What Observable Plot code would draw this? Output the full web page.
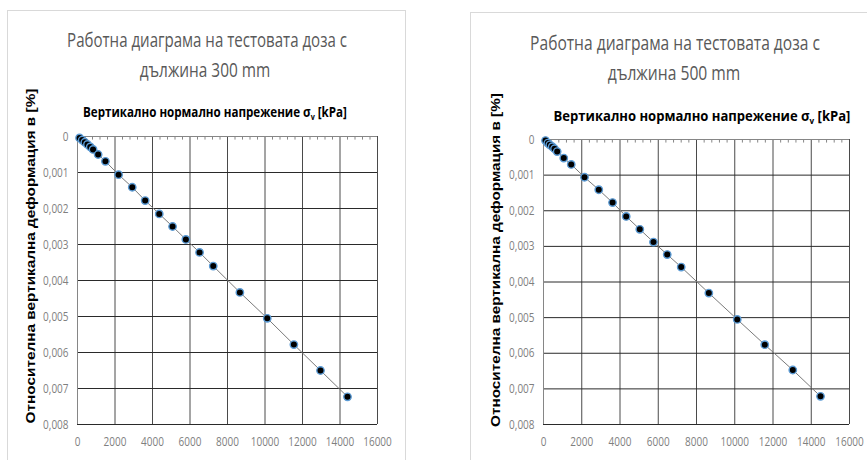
<!DOCTYPE html>
<html>
<head>
<meta charset="utf-8">
<script src="https://cdn.jsdelivr.net/npm/d3@7"></script>
<script src="https://cdn.jsdelivr.net/npm/@observablehq/plot@0.6"></script>
<style>
  html, body { margin: 0; padding: 0; background: #fff; }
  #wrap { position: relative; width: 867px; height: 460px; overflow: hidden; background: #fff; }
  .panel { position: absolute; border: 1px solid #d9d9d9; background: #fff; }
  .t { position: absolute; transform: translate(-50%, -50%); white-space: nowrap; line-height: 1; }
  .title { font-family: "Open Sans", "Noto Sans", sans-serif; font-size: 20px; color: #595959; }
  .xt { font-family: "Open Sans", "Noto Sans", sans-serif; font-weight: bold; font-size: 14.5px; color: #000; }
  .yt { font-family: "Liberation Sans", Arial, sans-serif; font-weight: bold; font-size: 13px; color: #000; }
  .plot { position: absolute; }
</style>
</head>
<body>
<div id="wrap">
  <div class="panel" style="left:7px; top:10px; width:397px; height:470px;"></div>
  <div class="panel" style="left:470px; top:12px; width:420px; height:470px;"></div>

  <div class="t title" data-w="280" style="left:207px; top:40px;">Работна диаграма на тестовата доза с</div>
  <div class="t title" data-w="131" style="left:205px; top:70px;">дължина 300 mm</div>
  <div class="t xt" data-w="264" style="left:215px; top:113px;">Вертикално нормално напрежение σ<sub style="font-size:9px">v</sub> [kPa]</div>
  <div class="t yt" data-w="335" data-rot="1" style="left:30px; top:256px;">Относителна вертикална деформация в [%]</div>

  <div class="t title" data-w="290" style="left:675px; top:43px;">Работна диаграма на тестовата доза с</div>
  <div class="t title" data-w="133" style="left:674px; top:73px;">дължина 500 mm</div>
  <div class="t xt" data-w="297" style="left:702px; top:117px;">Вертикално нормално напрежение σ<sub style="font-size:9px">v</sub> [kPa]</div>
  <div class="t yt" data-w="334" data-rot="1" style="left:495px; top:260px;">Относителна вертикална деформация в [%]</div>

  <div id="p1" class="plot" style="left:0px; top:90px;"></div>
  <div id="p2" class="plot" style="left:430px; top:90px;"></div>
</div>
<script>
// ---- Data: test specimen 300 mm ----
const stress300 = [110, 250, 390, 530, 680, 830, 1100, 1490, 2190, 2920, 3610, 4360, 5070, 5780, 6510, 7240, 8660, 10120, 11540, 12960, 14400];
const strain300 = [0.00004, 0.0001, 0.00016, 0.00022, 0.00029, 0.00036, 0.0005, 0.00069, 0.00106, 0.00141, 0.00178, 0.00215, 0.0025, 0.00286, 0.00322, 0.0036, 0.00433, 0.00505, 0.00578, 0.0065, 0.00723];

// ---- Data: test specimen 500 mm ----
const stress500 = [105, 225, 330, 455, 575, 715, 1060, 1450, 2145, 2890, 3610, 4325, 5035, 5750, 6470, 7200, 8645, 10130, 11570, 13035, 14485];
const strain500 = [0.00003, 0.0001, 0.00015, 0.0002, 0.00026, 0.00034, 0.00052, 0.0007, 0.00106, 0.00141, 0.00177, 0.00216, 0.00252, 0.00288, 0.00323, 0.00358, 0.00431, 0.00505, 0.00576, 0.00647, 0.00721];

// ---- Axis ticks ----
const xTicks = [0, 2000, 4000, 6000, 8000, 10000, 12000, 14000, 16000];
const yTicks = [0, 0.001, 0.002, 0.003, 0.004, 0.005, 0.006, 0.007, 0.008];
const xMinorStep = 400;

const fmtY = d => d === 0 ? "0" : d.toFixed(3).replace(".", ",");

function chart(stress, strain, w, h, m) {
  const data = stress.map((s, i) => ({x: s, y: strain[i]}));
  const minor = d3.range(0, 16000 + 1, xMinorStep).filter(v => !xTicks.includes(v));
  const grid = xTicks.filter(v => v !== 0);
  const svg = Plot.plot({
    width: w, height: h,
    marginLeft: m.l, marginRight: m.r, marginTop: m.t, marginBottom: m.b,
    style: {fontFamily: '"Open Sans", "Noto Sans", sans-serif', fontSize: "12.5px", color: "#7f7f7f", background: "transparent"},
    x: {domain: [0, 16000]},
    y: {domain: [0, 0.008], reverse: true},
    marks: [
      Plot.ruleX(grid, {stroke: "#4a4a4a", strokeWidth: 1}),
      Plot.ruleY(yTicks.filter(v => v !== 0), {stroke: "#2a2a2a", strokeWidth: 1}),
      Plot.ruleX([0], {stroke: "#868686", strokeWidth: 1}),
      Plot.ruleY([0], {stroke: "#868686", strokeWidth: 1}),
      Plot.ruleX(minor, {y1: 0, y2: 0.0001, stroke: "#868686", strokeWidth: 1}),
      Plot.line(data, {x: "x", y: "y", stroke: "#7a7a7a", strokeWidth: 1}),
      Plot.dot(data, {x: "x", y: "y", r: 3.7, fill: "#000", stroke: "#5b9bd5", strokeWidth: 1.4}),
      Plot.axisY({ticks: yTicks, tickSize: 0, tickPadding: 9, tickFormat: fmtY, label: null}),
      Plot.axisX({ticks: xTicks, tickSize: 0, tickPadding: 13, tickFormat: d => String(d), label: null})
    ]
  });
  // condense tick label glyphs (narrow face look)
  svg.querySelectorAll('g[aria-label$="tick label"] text').forEach(t => {
    const tr = t.getAttribute("transform") || "";
    t.setAttribute("transform", tr + " scale(0.8,1)");
  });
  return svg;
}

document.getElementById("p1").appendChild(chart(stress300, strain300, 420, 370, {l: 77, r: 43, t: 46, b: 36}));
document.getElementById("p2").appendChild(chart(stress500, strain500, 437, 370, {l: 113, r: 18, t: 49, b: 36}));

// fit text widths to the narrow face of the original
document.querySelectorAll(".t[data-w]").forEach(el => {
  const k = +el.dataset.w / el.offsetWidth;
  el.style.transform = "translate(-50%, -50%)" + (el.dataset.rot ? " rotate(-90deg)" : "") + ` scaleX(${k})`;
});
</script>
</body>
</html>
